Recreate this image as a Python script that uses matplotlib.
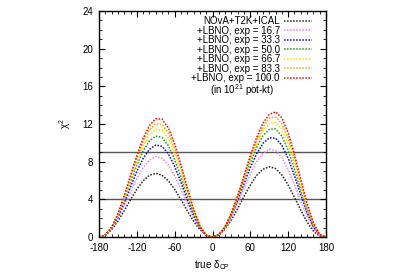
import matplotlib
matplotlib.use("Agg")
import matplotlib.pyplot as plt
from matplotlib.lines import Line2D
from matplotlib.ticker import MultipleLocator

plt.rcParams['font.family'] = ['Liberation Sans', 'DejaVu Sans']
plt.rcParams['mathtext.fontset'] = 'custom'
plt.rcParams['mathtext.rm'] = 'Liberation Sans'
plt.rcParams['mathtext.it'] = 'Liberation Sans:italic'
plt.rcParams['axes.unicode_minus'] = False

delta = [-180, -170, -160, -150, -140, -130, -120, -110, -100, -90, -80, -70, -60, -50, -40, -30, -20, -10, 0,
         10, 20, 30, 40, 50, 60, 70, 80, 90, 100, 110, 120, 130, 140, 150, 160, 170, 180]

chi_base = [0, 0.20, 0.79, 1.69, 2.79, 3.97, 5.07, 5.97, 6.56, 6.76, 6.56, 5.97, 5.07, 3.97, 2.79, 1.69, 0.79, 0.20, 0,
            0.22, 0.86, 1.83, 3.03, 4.32, 5.52, 6.54, 7.20, 7.46, 7.27, 6.59, 5.52, 4.21, 2.85, 1.59, 0.63, 0.09, 0]
chi_167 = [0, 0.20, 0.89, 1.98, 3.33, 4.80, 6.21, 7.37, 8.19, 8.54, 8.36, 7.66, 6.50, 5.04, 3.51, 2.05, 0.89, 0.18, 0,
           0.22, 0.95, 2.11, 3.56, 5.16, 6.68, 7.98, 8.90, 9.33, 9.19, 8.43, 7.15, 5.54, 3.80, 2.19, 0.92, 0.16, 0]
chi_333 = [0, 0.19, 0.92, 2.12, 3.65, 5.33, 6.96, 8.34, 9.31, 9.77, 9.63, 8.84, 7.50, 5.80, 3.98, 2.29, 0.96, 0.17, 0,
           0.24, 1.04, 2.31, 3.89, 5.65, 7.38, 8.85, 9.94, 10.52, 10.50, 9.75, 8.35, 6.51, 4.48, 2.59, 1.09, 0.19, 0]
chi_500 = [0, 0.21, 1.01, 2.33, 4.00, 5.84, 7.63, 9.15, 10.21, 10.72, 10.57, 9.70, 8.22, 6.36, 4.36, 2.52, 1.05, 0.18, 0,
           0.25, 1.10, 2.46, 4.16, 6.06, 7.92, 9.53, 10.75, 11.43, 11.48, 10.71, 9.22, 7.21, 4.99, 2.89, 1.21, 0.21, 0]
chi_667 = [0, 0.17, 0.96, 2.32, 4.08, 6.05, 7.98, 9.64, 10.84, 11.44, 11.35, 10.47, 8.92, 6.93, 4.77, 2.76, 1.15, 0.20, 0,
           0.21, 1.04, 2.43, 4.21, 6.21, 8.16, 9.92, 11.26, 12.04, 12.16, 11.43, 9.88, 7.76, 5.38, 3.12, 1.31, 0.23, 0]
chi_833 = [0, 0.18, 1.01, 2.44, 4.29, 6.36, 8.40, 10.14, 11.40, 12.04, 11.94, 11.01, 9.38, 7.29, 5.02, 2.90, 1.21, 0.21, 0,
           0.22, 1.08, 2.47, 4.32, 6.38, 8.43, 10.25, 11.67, 12.63, 12.73, 12.04, 10.46, 8.24, 5.72, 3.34, 1.41, 0.25, 0]
chi_1000 = [0, 0.18, 1.03, 2.49, 4.41, 6.54, 8.64, 10.47, 11.84, 12.56, 12.52, 11.60, 9.89, 7.67, 5.23, 2.96, 1.18, 0.17, 0,
            0.22, 1.10, 2.55, 4.44, 6.54, 8.66, 10.57, 12.09, 13.02, 13.29, 12.66, 11.07, 8.75, 6.12, 3.56, 1.49, 0.26, 0]

series = [chi_base, chi_167, chi_333, chi_500, chi_667, chi_833, chi_1000]
labels = ["NOvA+T2K+ICAL", "+LBNO, exp = 16.7", "+LBNO, exp = 33.3", "+LBNO, exp = 50.0",
          "+LBNO, exp = 66.7", "+LBNO, exp = 83.3", "+LBNO, exp = 100.0"]
colors = ["#222222", "#ee82ee", "#0000ff", "#1e9a1e", "#ffdd00", "#ffa500", "#ff0000"]
ref_levels = [4, 9]
xticks = [-180, -120, -60, 0, 60, 120, 180]
yticks = [0, 4, 8, 12, 16, 20, 24]

fig = plt.figure(figsize=(4.0, 2.79), dpi=100)
ax = fig.add_axes([0.2475, 0.1505, 0.5675, 0.81])

for lv in ref_levels:
    ax.axhline(lv, color="#555555", lw=1.0, zorder=1)

handles = []
for ys, c, lab in zip(series, colors, labels):
    ln, = ax.plot(delta, ys, color=c, lw=1.1, linestyle=(0, (1, 1)), label=lab, zorder=2)
    handles.append(ln)
handles.append(Line2D([], [], color='none'))
labs = labels + ["(in 10$^{21}$ pot-kt)   "]

ax.set_xlim(-180, 180)
ax.set_ylim(0, 24)
ax.set_xticks(xticks)
ax.set_yticks(yticks)
ax.xaxis.set_minor_locator(MultipleLocator(10))
ax.yaxis.set_minor_locator(MultipleLocator(1))
ax.tick_params(which='both', direction='in', top=True, right=True, labelsize=7)
ax.tick_params(axis='x', pad=4)
ax.tick_params(axis='y', pad=4)
ax.tick_params(which='major', length=4, width=0.8)
ax.tick_params(which='minor', length=2, width=0.6)
for s in ax.spines.values():
    s.set_linewidth(1.0)

ax.set_xlabel("true δ$_{\\mathrm{CP}}$", fontsize=7, labelpad=4)
ax.set_ylabel("χ$^2$", fontsize=7, labelpad=7)

leg = ax.legend(handles, labs, loc='upper right', bbox_to_anchor=(0.955, 0.995), frameon=False,
                fontsize=7, markerfirst=False, handlelength=2.9, handletextpad=0.4,
                labelspacing=-0.05, borderaxespad=0.2, borderpad=0.2)

fig.savefig("out.png", dpi=100)
